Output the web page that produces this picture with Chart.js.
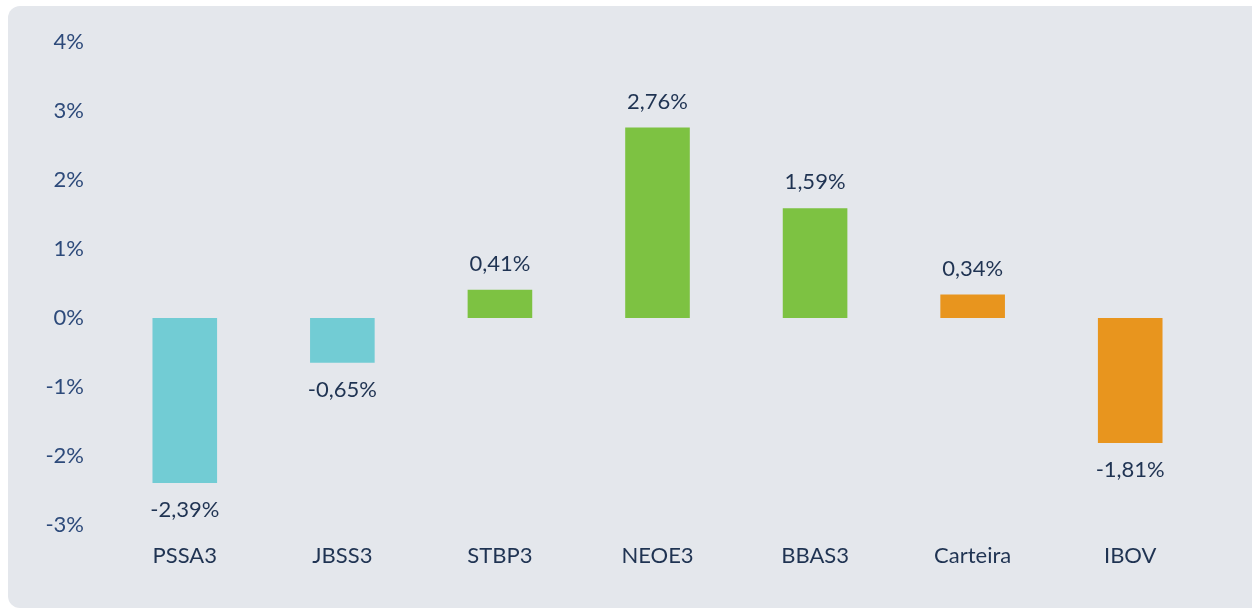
<!DOCTYPE html>
<html>
<head>
<meta charset="utf-8">
<script src="https://cdn.jsdelivr.net/npm/chart.js@4.4.0/dist/chart.umd.min.js"></script>
<style>
  html, body { margin: 0; padding: 0; background: #ffffff; }
  #wrap { width: 1252px; height: 609px; position: relative; }
</style>
</head>
<body>
<div id="wrap"><canvas id="retornoChart" width="1252" height="609"></canvas></div>
<script>
const categorias = ['PSSA3', 'JBSS3', 'STBP3', 'NEOE3', 'BBAS3', 'Carteira', 'IBOV'];
const retornos = [-2.39, -0.65, 0.41, 2.76, 1.59, 0.34, -1.81];
const coresBarras = ['#72ccd4', '#72ccd4', '#7dc242', '#7dc242', '#7dc242', '#e8951e', '#e8951e'];
const eixoMin = -3;
const eixoMax = 4;

const fonte = 'Lato, "Open Sans", sans-serif';
const tamFonte = 22;

function formatarPct(v, casas) {
  return v.toFixed(casas).replace('.', ',') + '%';
}

// fundo cinza com cantos arredondados
const fundoPainel = {
  id: 'fundoPainel',
  beforeDraw(chart) {
    const c = chart.ctx;
    c.save();
    c.fillStyle = '#e4e7ec';
    c.beginPath();
    c.roundRect(8, 6, 1252 - 8 + 12, 609 - 6 - 1, 12);
    c.fill();
    c.restore();
  }
};

// rótulos de valor acima/abaixo das barras
const rotulosValor = {
  id: 'rotulosValor',
  afterDatasetsDraw(chart) {
    const c = chart.ctx;
    const meta = chart.getDatasetMeta(0);
    c.save();
    c.font = tamFonte + 'px ' + fonte;
    c.fillStyle = '#1f3352';
    c.textAlign = 'center';
    c.textBaseline = 'middle';
    meta.data.forEach((bar, i) => {
      const v = retornos[i];
      const y = v >= 0 ? bar.y - 26 : bar.y + 27;
      c.fillText(formatarPct(v, 2), bar.x, y);
    });
    c.restore();
  }
};

new Chart(document.getElementById('retornoChart').getContext('2d'), {
  type: 'bar',
  data: {
    labels: categorias,
    datasets: [{
      data: retornos,
      backgroundColor: coresBarras,
      borderWidth: 0,
      barPercentage: 0.41,
      categoryPercentage: 1
    }]
  },
  options: {
    responsive: false,
    animation: false,
    layout: { padding: { left: 0, top: 42, right: 43, bottom: 34 } },
    plugins: {
      legend: { display: false },
      tooltip: { enabled: false }
    },
    scales: {
      x: {
        grid: { display: false, drawTicks: false },
        border: { display: false },
        ticks: { color: '#1f3352', font: { family: fonte, size: tamFonte }, padding: 18 },
        afterFit(scale) { scale.height = 50; }
      },
      y: {
        min: eixoMin,
        max: eixoMax,
        grid: { display: false, drawTicks: false },
        border: { display: false },
        ticks: {
          stepSize: 1,
          color: '#2d4a7a',
          font: { family: fonte, size: tamFonte },
          padding: 22,
          callback: v => v + '%'
        },
        afterFit(scale) { scale.width = 106; }
      }
    }
  },
  plugins: [fundoPainel, rotulosValor]
});
</script>
</body>
</html>
